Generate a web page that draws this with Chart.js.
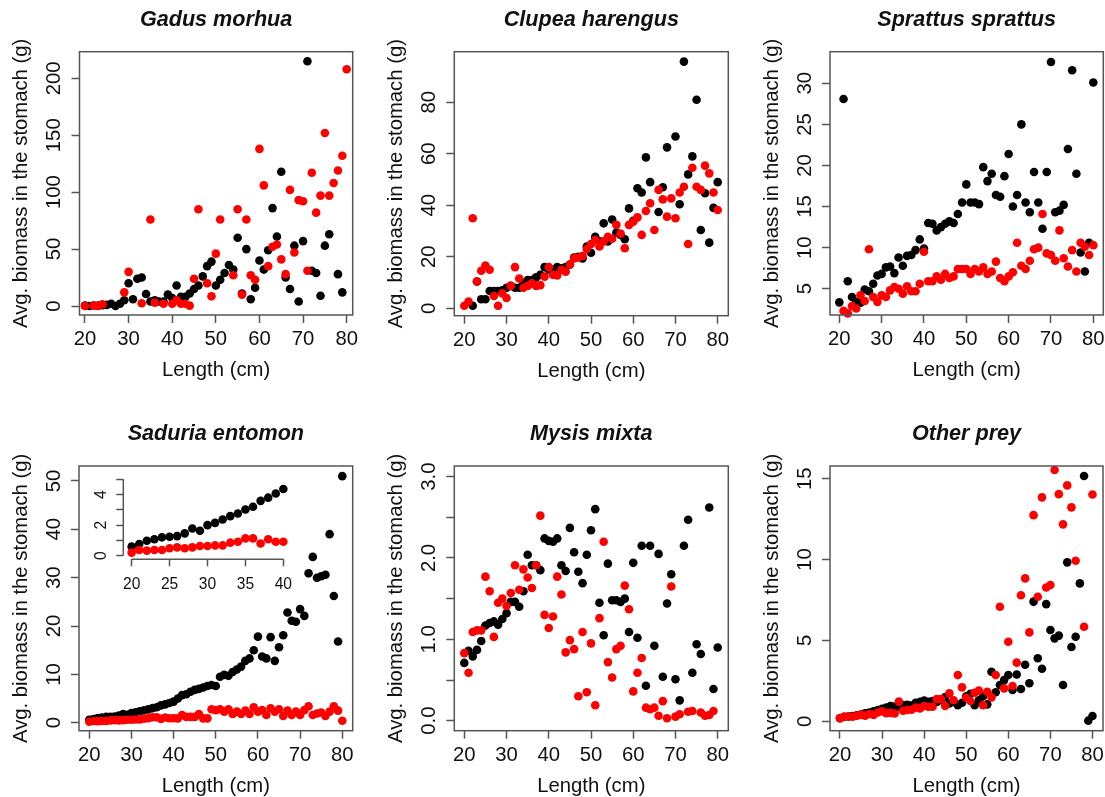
<!DOCTYPE html>
<html>
<head>
<meta charset="utf-8">
<script src="https://cdn.jsdelivr.net/npm/chart.js@4.4.1/dist/chart.umd.min.js"></script>
<style>
  html, body { margin: 0; padding: 0; background: #ffffff; }
  body { width: 1105px; height: 797px; overflow: hidden; position: relative; }
  canvas { position: absolute; }
</style>
</head>
<body>
<script>
// ---------------- DATA ----------------
const lengths = [20,21,22,23,24,25,26,27,28,29,30,31,32,33,34,35,36,37,38,39,40,
  41,42,43,44,45,46,47,48,49,50,51,52,53,54,55,56,57,58,59,60,
  61,62,63,64,65,66,67,68,69,70,71,72,73,74,75,76,77,78,79,80];

const gadusBlack = [0.3,0,0.5,0.3,0.8,1,2,0,2,5,20,6,24,25,10.5,4,5,4,4,10,7,
  18,8,8,11,15,18,26,35,39,18,23,29,36,32,60,11,50,6,16,40,
  32,49,86,61,118,25,15,53,4,57,215,31,29,9,53,63,null,28,12,null];
const gadusRed = [0,null,0.5,0,1.5,null,null,null,null,12,30,null,null,2.4,null,76,3,null,2,null,2,
  5,2,2,0.3,24,85,null,20,8.5,46,76,null,null,27,85,10,76,27,23,138,
  106,35,52,54,41,28,102,47,93,92,31,117,82,97,152,97,108,119,132,208];

const clupeaBlack = [null,null,1,10.4,3.5,3.5,6.7,6.7,6.7,7,8,8.7,8,8,9.7,11,11,12,13,16,15,
  15,16,15.5,16,17,19.7,20,19.4,24,21.6,27.8,26,33,26,34.5,29.4,28.5,26.8,38.8,34,
  46.6,45,58.6,49,null,37.4,47,62.5,null,66.7,40.4,95.8,52,59,81,30.4,44.7,25.5,39,49];
const clupeaRed = [1,2.6,35,10.4,14.6,16.6,15,4.8,1,5.8,4,8.7,16,11.6,8,8.7,9.7,8.7,9,12.3,16,
  13,12.8,15,14.2,17,19.4,19.7,20.3,23,25,26.5,24,26,27.8,27,32.4,29,23.3,32.4,33.6,
  35.3,28.5,37.8,40.8,30.4,46,42.3,35.6,42.7,35,45,47.2,25,54.6,47.2,46,55.4,52.4,45,38.2];

const sprattusBlack = [3.34,28.1,5.9,4.0,3.4,3.3,4.9,4.7,5.6,6.6,6.8,7.6,7.7,6.9,8.8,7.8,9.0,9.1,9.7,11.0,9.9,
  13.0,12.9,12.1,12.5,12.9,13.2,13.0,14.1,15.5,17.7,15.5,15.5,15.3,19.8,18.1,19.0,16.4,16.2,18.7,21.4,
  15.0,16.4,25.0,15.5,14.3,19.2,15.5,12.3,19.2,32.6,14.3,14.5,15.2,22.0,31.6,19.0,9.4,7.1,10.6,30.1];
const sprattusRed = [null,2.3,2.0,2.9,2.6,4.2,3.5,9.8,4.0,3.4,4.2,4.0,4.8,5.2,5.0,4.4,5.3,4.7,4.7,5.6,9.5,
  5.9,5.9,6.5,6.1,6.8,6.3,6.5,7.4,7.4,7.4,6.8,7.4,7.1,7.6,6.8,7.1,8.3,6.3,5.9,6.5,
  7.0,10.6,7.8,7.4,8.4,9.8,10.0,14.1,9.3,9.1,8.4,12.1,8.7,7.7,9.7,7.1,10.6,10.1,9.1,10.3];

const saduriaBlack = [0.59,0.76,0.98,1.07,1.2,1.24,1.28,1.46,1.78,1.63,2.0,2.15,2.37,2.59,2.76,3.02,3.2,3.59,3.8,4.07,4.37,
  5.0,5.7,5.9,6.4,6.8,7.0,7.3,7.6,7.8,7.6,9.5,9.9,9.7,10.5,11.0,11.6,12.8,13.3,15.0,17.8,
  13.7,13.3,17.7,12.8,15.6,18.1,22.8,21.1,20.9,23.5,22.1,30.9,34.3,30.0,30.3,30.6,39.0,26.2,16.8,51.0];
const saduriaRed = [0.2,0.37,0.33,0.37,0.37,0.48,0.54,0.48,0.54,0.63,0.63,0.67,0.67,0.85,0.91,1.13,1.13,0.8,1.07,0.91,0.91,
  0.9,1.6,1.2,1.2,1.2,1.8,0.9,0.9,2.8,2.6,2.8,2.3,2.8,1.8,2.3,1.8,2.5,1.8,3.2,2.3,
  2.6,1.6,3.0,2.3,2.8,1.4,2.5,1.6,2.3,1.6,2.6,3.4,1.6,1.9,2.1,1.4,2.3,3.4,2.5,0.4];

const mysisBlack = [0.71,0.86,0.79,0.87,0.98,1.17,1.2,1.22,1.18,1.25,1.32,1.46,1.46,1.4,1.59,2.04,1.91,1.91,1.85,2.24,2.21,
  2.2,2.24,1.91,1.84,2.37,2.07,1.83,1.69,2.04,2.34,2.6,1.45,1.05,1.93,1.48,1.48,1.46,1.5,1.09,1.94,
  1.02,2.15,0.43,2.15,0.92,2.05,0.54,1.44,1.8,0.51,0.25,2.15,2.47,0.59,0.94,0.82,null,2.62,0.39,0.9];
const mysisRed = [0.83,0.59,1.09,1.11,1.11,1.77,1.59,1.03,1.45,1.5,1.41,1.57,1.91,1.61,1.86,1.76,1.63,1.91,2.52,1.3,1.14,
  1.28,1.77,1.55,0.84,0.99,0.88,0.3,1.09,0.35,0.95,0.19,1.26,2.2,0.72,0.53,0.88,0.92,1.66,1.37,0.36,
  0.59,0.77,0.16,0.14,0.16,0.06,0.24,0.03,1.65,0.05,0.08,null,0.11,0.12,null,0.1,0.06,0.07,0.12,null];

const otherBlack = [0.19,0.28,0.3,0.33,0.38,0.42,0.5,0.55,0.62,0.7,0.78,0.85,0.95,0.92,0.88,1.0,1.02,0.98,1.15,1.2,1.28,
  1.2,1.25,1.2,1.3,1.5,1.1,1.2,1.0,1.15,1.55,1.7,1.0,1.3,1.55,1.05,3.07,1.8,2.25,2.55,2.86,
  1.94,2.9,2.0,3.5,2.35,7.4,3.9,3.25,7.25,5.65,5.13,5.3,2.25,9.83,4.6,5.23,8.53,15.17,0.04,0.33];
const otherRed = [0.2,0.28,0.3,0.28,0.35,0.4,0.35,0.45,0.4,0.55,0.62,0.5,0.52,0.48,1.22,0.65,0.7,0.72,0.85,0.8,0.95,
  0.9,0.9,1.38,1.38,0.95,1.73,1.3,2.86,2.1,1.46,1.26,1.77,1.9,1.0,1.83,1.48,2.86,7.09,2.04,4.92,
  2.18,3.63,7.8,8.84,5.5,12.75,7.7,13.85,8.28,8.43,15.54,14.05,12.18,14.59,13.23,9.93,null,5.85,null,14.03];

// tick values and labels
const xTicks = [20,30,40,50,60,70,80];
const xLabels = ['20','30','40','50','60','70','80'];
const gadusYTicks = [0,50,100,150,200];
const gadusYLabels = ['0','50','100','150','200'];
const clupeaYTicks = [0,20,40,60,80];
const clupeaYLabels = ['0','20','40','60','80'];
const sprattusYTicks = [5,10,15,20,25,30];
const sprattusYLabels = ['5','10','15','20','25','30'];
const saduriaYTicks = [0,10,20,30,40,50];
const saduriaYLabels = ['0','10','20','30','40','50'];
const mysisYTicks = [0,0.5,1,1.5,2,2.5,3];
const mysisYLabels = ['0.0','','1.0','','2.0','','3.0'];
const otherYTicks = [0,5,10,15];
const otherYLabels = ['0','5','10','15'];
const insetXTicks = [20,25,30,35,40];
const insetXLabels = ['20','25','30','35','40'];
const insetYTicks = [0,1,2,3,4,5];
const insetYLabels = ['0','','2','','4',''];
const insetLengths = lengths.slice(0, 21);

const xTitle = 'Length (cm)';
const yTitle = 'Avg. biomass in the stomach (g)';

// ---------------- STYLE / LAYOUT ----------------
const FAMILY = '"Liberation Sans", Arial, Helvetica, sans-serif';
const TXT = '#111111';
const LINE = '#555555';
const FS = 20.3;
const TL = 8;
const YW = 70;
const XH = 66;
const PR = 4.3;

Chart.defaults.font.family = FAMILY;

const mctx = document.createElement('canvas').getContext('2d');
function widest(labels, size) {
  mctx.font = 'normal ' + size + 'px ' + FAMILY;
  return Math.max(...labels.map(l => mctx.measureText(l).width));
}
function pts(xs, ys) {
  const out = [];
  xs.forEach((x, i) => { if (ys[i] !== null && ys[i] !== undefined) out.push({x: x, y: ys[i]}); });
  return out;
}

const boxPlugin = {
  id: 'box',
  afterDraw(chart) {
    const a = chart.chartArea, ctx = chart.ctx;
    ctx.save();
    ctx.strokeStyle = LINE; ctx.lineWidth = 1.5;
    ctx.strokeRect(a.left, a.top, a.right - a.left, a.bottom - a.top);
    ctx.restore();
  }
};

const panels = [
  {title: 'Gadus morhua', black: gadusBlack, red: gadusRed, yT: gadusYTicks, yL: gadusYLabels,
   cx: 0, cy: 0, L: 79.5, R: 352.7, T: 51.7, B: 315, xMin: 18.74, xMax: 81.38, yMin: -7.9, yMax: 223.4, tY: 19.7},
  {title: 'Clupea harengus', black: clupeaBlack, red: clupeaRed, yT: clupeaYTicks, yL: clupeaYLabels,
   cx: 370, cy: 0, L: 84.3, R: 358.3, T: 51.7, B: 315.7, xMin: 17.63, xMax: 82.51, yMin: -2.87, yMax: 99.65, tY: 19.7},
  {title: 'Sprattus sprattus', black: sprattusBlack, red: sprattusRed, yT: sprattusYTicks, yL: sprattusYLabels,
   cx: 735, cy: 0, L: 95, R: 368.3, T: 51.7, B: 315, xMin: 17.8, xMax: 82.36, yMin: 1.8, yMax: 33.85, tY: 19.7},
  {title: 'Saduria entomon', black: saduriaBlack, red: saduriaRed, yT: saduriaYTicks, yL: saduriaYLabels,
   cx: 0, cy: 400, L: 79, R: 352.7, T: 66, B: 330.7, xMin: 17.56, xMax: 82.47, yMin: -1.65, yMax: 53.1, tY: 34},
  {title: 'Mysis mixta', black: mysisBlack, red: mysisRed, yT: mysisYTicks, yL: mysisYLabels,
   cx: 370, cy: 400, L: 84.3, R: 358.3, T: 66, B: 330.7, xMin: 17.63, xMax: 82.51, yMin: -0.123, yMax: 3.13, tY: 34},
  {title: 'Other prey', black: otherBlack, red: otherRed, yT: otherYTicks, yL: otherYLabels,
   cx: 735, cy: 400, L: 95, R: 368, T: 66, B: 330.7, xMin: 17.63, xMax: 82.5, yMin: -0.58, yMax: 15.79, tY: 34}
];

function makeCanvas(x, y, w, h) {
  const c = document.createElement('canvas');
  c.width = w; c.height = h;
  c.style.left = x + 'px'; c.style.top = y + 'px';
  c.style.width = w + 'px'; c.style.height = h + 'px';
  document.body.appendChild(c);
  return c;
}

function fixX(h) { return s => { s.height = h; s.paddingLeft = 0; s.paddingRight = 0; s.paddingTop = 0; s.paddingBottom = 0; }; }
function fixY(w) { return s => { s.width = w; s.paddingLeft = 0; s.paddingRight = 0; s.paddingTop = 0; s.paddingBottom = 0; }; }

panels.forEach(p => {
  const CW = 400, CH = 400;
  const c = makeCanvas(p.cx, p.cy, CW, CH);
  const TFS = 21.6;
  const tPadTop = p.tY - TFS / 2;
  const tPadBottom = p.T - TFS - tPadTop;
  const yPad = 25 - TL - widest(p.yL, FS) / 2;
  new Chart(c, {
    type: 'scatter',
    data: {
      datasets: [
        {data: pts(lengths, p.red), backgroundColor: '#ff0000', borderWidth: 0, pointRadius: PR, order: 1, clip: false},
        {data: pts(lengths, p.black), backgroundColor: '#000000', borderWidth: 0, pointRadius: PR, order: 2, clip: false}
      ]
    },
    options: {
      responsive: false, animation: false, devicePixelRatio: 1, events: [],
      layout: {padding: {left: p.L - YW, right: CW - p.R, top: 0, bottom: CH - p.B - XH}},
      plugins: {
        legend: {display: false}, tooltip: {enabled: false},
        title: {display: true, text: p.title, fullSize: false, color: TXT,
          font: {family: FAMILY, size: TFS, style: 'italic', weight: 'bold', lineHeight: 1},
          padding: {top: tPadTop, bottom: tPadBottom}}
      },
      scales: {
        x: {
          type: 'linear', position: 'bottom', min: p.xMin, max: p.xMax,
          afterBuildTicks: s => { s.ticks = xTicks.map(v => ({value: v})); },
          afterFit: fixX(XH),
          border: {display: false},
          grid: {display: true, drawOnChartArea: false, drawTicks: true, tickLength: TL, tickColor: LINE, tickWidth: 1.5},
          ticks: {autoSkip: false, maxRotation: 0, minRotation: 0, padding: 6.5, color: TXT,
            font: {size: FS, lineHeight: 1}, callback: (v, i) => xLabels[i]},
          title: {display: true, text: xTitle, color: TXT, font: {size: FS, lineHeight: 1}, padding: {top: 0, bottom: 0}}
        },
        y: {
          type: 'linear', position: 'left', min: p.yMin, max: p.yMax,
          afterBuildTicks: s => { s.ticks = p.yT.map(v => ({value: v})); },
          afterFit: fixY(YW),
          border: {display: false},
          grid: {display: true, drawOnChartArea: false, drawTicks: true, tickLength: TL, tickColor: LINE, tickWidth: 1.5},
          ticks: {autoSkip: false, minRotation: 90, maxRotation: 90, crossAlign: 'center', padding: yPad, color: TXT,
            font: {size: FS, lineHeight: 1}, callback: (v, i) => p.yL[i]},
          title: {display: true, text: yTitle, color: TXT, font: {size: FS, lineHeight: 1}, padding: {top: 2, bottom: 0}}
        }
      }
    },
    plugins: [boxPlugin]
  });
});

// ---------------- INSET (Saduria entomon, 20-40 cm) ----------------
(function () {
  const CX = 0, CY = 400, CW = 330, CH = 230;
  const L = 123.3, R = 291.7, T = 75.7, B = 159.3;
  const IW = 50, IH = 45, IFS = 15.6, ITL = 7;
  const c = makeCanvas(CX, CY, CW, CH);
  const insetAxes = {
    id: 'insetAxes',
    afterDraw(chart) {
      const ctx = chart.ctx, xs = chart.scales.x, ys = chart.scales.y, a = chart.chartArea;
      ctx.save();
      ctx.strokeStyle = LINE; ctx.lineWidth = 1.5;
      ctx.beginPath();
      ctx.moveTo(a.left, ys.getPixelForValue(insetYTicks[0]));
      ctx.lineTo(a.left, ys.getPixelForValue(insetYTicks[insetYTicks.length - 1]));
      ctx.moveTo(xs.getPixelForValue(insetXTicks[0]), a.bottom);
      ctx.lineTo(xs.getPixelForValue(insetXTicks[insetXTicks.length - 1]), a.bottom);
      ctx.stroke();
      ctx.restore();
    }
  };
  const yPad = 21.6 - ITL - widest(insetYLabels, IFS) / 2;
  new Chart(c, {
    type: 'scatter',
    data: {
      datasets: [
        {data: pts(insetLengths, saduriaRed), backgroundColor: '#ff0000', borderWidth: 0, pointRadius: PR, order: 1, clip: false},
        {data: pts(insetLengths, saduriaBlack), backgroundColor: '#000000', borderWidth: 0, pointRadius: PR, order: 2, clip: false}
      ]
    },
    options: {
      responsive: false, animation: false, devicePixelRatio: 1, events: [],
      layout: {padding: {left: L - IW, right: CW - R, top: T, bottom: CH - B - IH}},
      plugins: {legend: {display: false}, tooltip: {enabled: false}, title: {display: false}},
      scales: {
        x: {
          type: 'linear', min: 18.9, max: 41.1,
          afterBuildTicks: s => { s.ticks = insetXTicks.map(v => ({value: v})); },
          afterFit: fixX(IH),
          border: {display: false},
          grid: {display: true, drawOnChartArea: false, drawTicks: true, tickLength: ITL, tickColor: LINE, tickWidth: 1.5},
          ticks: {autoSkip: false, maxRotation: 0, minRotation: 0, padding: 10.2, color: TXT,
            font: {size: IFS, lineHeight: 1}, callback: (v, i) => insetXLabels[i]}
        },
        y: {
          type: 'linear', min: -0.24, max: 5.24,
          afterBuildTicks: s => { s.ticks = insetYTicks.map(v => ({value: v})); },
          afterFit: fixY(IW),
          border: {display: false},
          grid: {display: true, drawOnChartArea: false, drawTicks: true, tickLength: ITL, tickColor: LINE, tickWidth: 1.5},
          ticks: {autoSkip: false, minRotation: 90, maxRotation: 90, crossAlign: 'center', padding: yPad, color: TXT,
            font: {size: IFS, lineHeight: 1}, callback: (v, i) => insetYLabels[i]}
        }
      }
    },
    plugins: [insetAxes]
  });
})();
</script>
</body>
</html>
